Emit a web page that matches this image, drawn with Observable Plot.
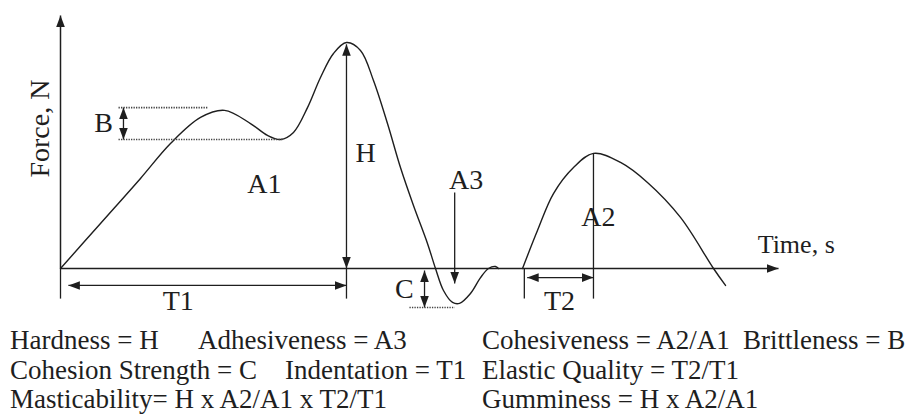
<!DOCTYPE html>
<html>
<head>
<meta charset="utf-8">
<script src="https://cdn.jsdelivr.net/npm/d3@7"></script>
<script src="https://cdn.jsdelivr.net/npm/@observablehq/plot@0.6"></script>
<style>
  html, body { margin: 0; padding: 0; background: #fff; }
  #chart svg { display: block; }
  #caption { position: relative; width: 916px; height: 97px; font-family: "Liberation Serif", "Times New Roman", serif; font-size: 27px; line-height: 27px; color: #1e1e1e; }
  #caption span { position: absolute; white-space: nowrap; }
</style>
</head>
<body>
<div id="chart"></div>
<div id="caption"></div>
<script>
// ---- Data (time units, force units) ----
// First compression (with fracture peak B, peak H, then adhesive dip A3)
const bite1Time  = [0, 5.57, 11.14, 15.32, 19.5, 22.84, 26.46, 28.83, 30.64, 32.45, 34.4, 36.21, 38.02, 39.83, 41.78, 43.59, 45.54, 47.35, 49.16, 51.11, 52.23, 53.34, 54.6, 55.57, 57.1, 58.5, 59.61, 60.58, 61.0];
const bite1Force = [0, 17.8, 35.6, 49.4, 59.7, 62.5, 57.3, 52.6, 51.0, 53.8, 63.6, 75.5, 85.0, 89.3, 86.2, 74.3, 57.3, 39.9, 24.9, 9.9, 0, -8.7, -13.4, -13.8, -9.9, -3.6, 0, 0.8, 0];
// Second compression
const bite2Time  = [64.35, 66.43, 68.66, 71.45, 74.23, 78.0, 81.75, 86.35, 90.95, 92.62];
const bite2Force = [0, 15.0, 29.6, 39.9, 45.5, 41.9, 34.0, 20.2, 0, -6.7];

// Key readings
const peakH = {t: 39.83, f: 88.6};
const brittleTop = 63.6, brittleBottom = 51.0, brittleT = 8.77;
const peak2 = {t: 74.23, f: 45.5};
const t2Start = 64.6;
const cohesionT = 50.7, cohesionTop = -0.8, cohesionBottom = -15.4;
const a3T = 54.9;

// Labels
const labelText = ["B", "H", "A1", "A3", "A2", "C", "T1", "T2"];
const labelTime = [6.0, 42.5, 28.4, 56.5, 74.9, 47.9, 16.4, 69.5];
const labelForce = [57.3, 45.8, 33.2, 34.8, 20.2, -8.3, -13.0, -13.0];

const xAxisLabel = "Time, s";
const yAxisLabel = "Force, N";

const captionLines = [
  ["Hardness = H", "Adhesiveness = A3", "Cohesiveness = A2/A1", "Brittleness = B"],
  ["Cohesion Strength = C", "Indentation = T1", "Elastic Quality = T2/T1"],
  ["Masticability= H x A2/A1 x T2/T1", "Gumminess = H x A2/A1"]
];

// ---- Build tables ----
const bite1 = bite1Time.map((t, i) => ({t, f: bite1Force[i]}));
const bite2 = bite2Time.map((t, i) => ({t, f: bite2Force[i]}));
const labels = labelText.map((label, i) => ({label, t: labelTime[i], f: labelForce[i]}));

const tickDepth = -11.9;
const axes = [
  {x1: 0, y1: 0, x2: 100, y2: 0},
  {x1: 0, y1: 0, x2: 0, y2: 100}
];
const plainLines = [
  {x1: 0, y1: 0, x2: 0, y2: tickDepth},
  {x1: peakH.t, y1: 0, x2: peakH.t, y2: tickDepth},
  {x1: t2Start, y1: 0, x2: t2Start, y2: tickDepth},
  {x1: peak2.t, y1: peak2.f, x2: peak2.t, y2: tickDepth}
];
const doubleArrows = [
  {x1: peakH.t, y1: 0, x2: peakH.t, y2: peakH.f},
  {x1: brittleT, y1: brittleBottom, x2: brittleT, y2: brittleTop},
  {x1: 1.1, y1: -6.7, x2: peakH.t, y2: -6.7},
  {x1: cohesionT, y1: cohesionTop, x2: cohesionT, y2: cohesionBottom},
  {x1: 65.0, y1: -3.6, x2: peak2.t, y2: -3.6}
];
const singleArrows = [
  {x1: a3T, y1: 30.0, x2: a3T, y2: -5.9}
];
const dotted = [
  {x1: 8.08, y1: brittleTop, x2: 20.6, y2: brittleTop},
  {x1: 8.08, y1: brittleBottom, x2: 31.06, y2: brittleBottom},
  {x1: 48.6, y1: cohesionBottom, x2: 54.9, y2: cohesionBottom}
];

const ink = "#1e1e1e";
const font = "Liberation Serif, Times New Roman, serif";

const svg = Plot.plot({
  width: 916,
  height: 320,
  marginLeft: 60,
  marginRight: 138,
  marginTop: 15,
  marginBottom: 52,
  x: {domain: [0, 100], axis: null},
  y: {domain: [0, 100], axis: null},
  style: {background: "#fff", fontFamily: font, overflow: "visible"},
  marks: [
    Plot.link(axes, {x1: "x1", y1: "y1", x2: "x2", y2: "y2", stroke: ink, strokeWidth: 1.5, markerEnd: "arrow"}),
    Plot.line(bite1, {x: "t", y: "f", curve: "catmull-rom", stroke: ink, strokeWidth: 1.4}),
    Plot.line(bite2, {x: "t", y: "f", curve: "catmull-rom", stroke: ink, strokeWidth: 1.4}),
    Plot.link(plainLines, {x1: "x1", y1: "y1", x2: "x2", y2: "y2", stroke: ink, strokeWidth: 1.3}),
    Plot.link(doubleArrows, {x1: "x1", y1: "y1", x2: "x2", y2: "y2", stroke: ink, strokeWidth: 1.3, markerStart: "arrow", markerEnd: "arrow"}),
    Plot.link(singleArrows, {x1: "x1", y1: "y1", x2: "x2", y2: "y2", stroke: ink, strokeWidth: 1.3, markerEnd: "arrow"}),
    Plot.link(dotted, {x1: "x1", y1: "y1", x2: "x2", y2: "y2", stroke: "#444", strokeWidth: 1.6, strokeDasharray: "1.3,1.2"}),
    Plot.text(labels, {x: "t", y: "f", text: "label", fontSize: 28, fill: ink, fontFamily: font, textAnchor: "middle", lineAnchor: "middle"}),
    Plot.text([xAxisLabel], {x: 97.1, y: 9.3, text: d => d, fontSize: 26, fill: ink, fontFamily: font, textAnchor: "start", lineAnchor: "middle"}),
    Plot.text([yAxisLabel], {x: -2.8, y: 55.3, text: d => d, fontSize: 28, fill: ink, fontFamily: font, rotate: -90, textAnchor: "middle", lineAnchor: "middle"})
  ]
});

// Make markers filled triangular arrowheads
const NS = "http://www.w3.org/2000/svg";
svg.querySelectorAll("marker").forEach(m => {
  m.setAttribute("viewBox", "-12 -5 13 10");
  m.setAttribute("markerWidth", 13);
  m.setAttribute("markerHeight", 10);
  m.setAttribute("markerUnits", "userSpaceOnUse");
  m.setAttribute("orient", "auto-start-reverse");
  m.setAttribute("fill", ink);
  m.setAttribute("stroke", "none");
  while (m.firstChild) m.removeChild(m.firstChild);
  const p = document.createElementNS(NS, "path");
  p.setAttribute("d", "M-11.5,-4.3L0,0L-11.5,4.3Z");
  m.appendChild(p);
});

document.getElementById("chart").appendChild(svg);

// Caption layout
const captionLeft = [[10, 198, 482, 743], [10, 285, 482], [10, 482]];
const captionTop = [7.4, 37.4, 66.4];
const cap = document.getElementById("caption");
captionLines.forEach((line, i) => {
  line.forEach((txt, j) => {
    const s = document.createElement("span");
    s.textContent = txt;
    s.style.left = captionLeft[i][j] + "px";
    s.style.top = captionTop[i] + "px";
    cap.appendChild(s);
  });
});
</script>
</body>
</html>
